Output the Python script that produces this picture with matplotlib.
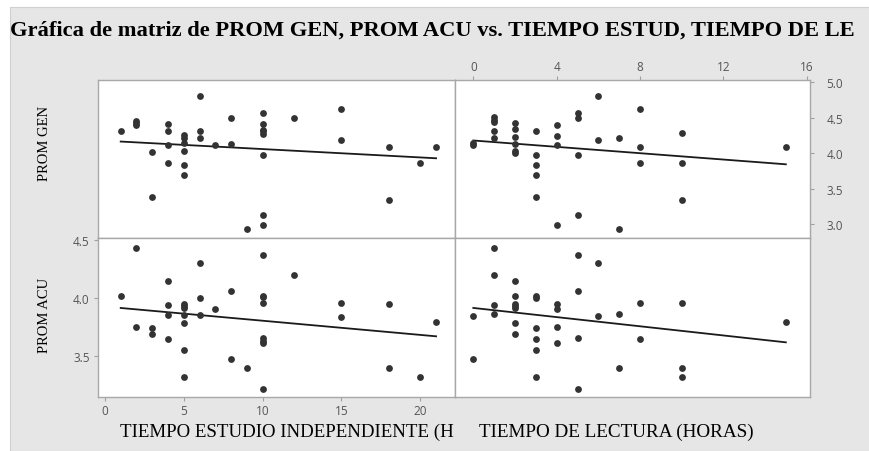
import numpy as np
import matplotlib
matplotlib.use("Agg")
import matplotlib.pyplot as plt
from matplotlib.patches import Rectangle

# PROM GEN vs TIEMPO ESTUDIO (top-left)
estud_gen_x = [1, 2, 2, 2, 3, 3, 4, 4, 4, 4, 5, 5, 5, 5, 5, 5, 6, 6, 6, 7, 8, 8, 9,
               10, 10, 10, 10, 10, 10, 10, 10, 12, 15, 15, 18, 18, 20, 21]
estud_gen_y = [4.31, 4.45, 4.43, 4.40, 4.02, 3.39, 4.41, 4.31, 4.12, 3.87,
               4.26, 4.22, 4.15, 4.03, 3.83, 3.70, 4.81, 4.31, 4.22, 4.12, 4.50, 4.13, 2.93,
               4.565, 4.41, 4.33, 4.31, 4.27, 3.97, 3.14, 2.99, 4.50, 4.62, 4.18,
               4.085, 3.34, 3.87, 4.085]

# PROM ACU vs TIEMPO ESTUDIO (bottom-left)
estud_acu_x = [1, 2, 2, 3, 3, 4, 4, 4, 4, 5, 5, 5, 5, 5, 5, 5, 6, 6, 6, 7, 8, 8, 9,
               10, 10, 10, 10, 10, 10, 10, 10, 12, 15, 15, 18, 18, 20, 21]
estud_acu_y = [4.02, 4.43, 3.745, 3.74, 3.69, 4.15, 3.94, 3.85, 3.64,
               3.95, 3.93, 3.91, 3.855, 3.78, 3.55, 3.31, 4.30, 4.0, 3.855, 3.90, 4.06, 3.47, 3.39,
               4.37, 4.02, 4.006, 3.96, 3.65, 3.63, 3.61, 3.21, 4.20, 3.96, 3.835,
               3.95, 3.39, 3.31, 3.79]

# PROM GEN vs TIEMPO DE LECTURA (top-right)
lect_gen_x = [0, 0, 1, 1, 1, 1, 1, 2, 2, 2, 2, 2, 2, 3, 3, 3, 3, 3, 4, 4, 4, 4,
              5, 5, 5, 5, 6, 6, 7, 7, 8, 8, 8, 10, 10, 10, 15]
lect_gen_y = [4.145, 4.12, 4.51, 4.475, 4.44, 4.315, 4.22, 4.42, 4.34, 4.235, 4.135, 4.03, 4.01,
              4.315, 3.97, 3.83, 3.70, 3.39, 4.40, 4.25, 4.12, 2.99,
              4.565, 4.50, 3.97, 3.14, 4.81, 4.18, 4.22, 2.93, 4.62, 4.085, 3.87,
              4.28, 3.87, 3.34, 4.085]

# PROM ACU vs TIEMPO DE LECTURA (bottom-right)
lect_acu_x = [0, 0, 1, 1, 1, 1, 2, 2, 2, 2, 2, 2, 2, 3, 3, 3, 3, 3, 3, 4, 4, 4, 4,
              5, 5, 5, 5, 6, 6, 7, 7, 8, 8, 10, 10, 10, 15]
lect_acu_y = [3.846, 3.47, 4.43, 4.20, 3.94, 3.86, 4.15, 4.015, 3.95, 3.93, 3.91, 3.785, 3.69,
              4.017, 4.0, 3.74, 3.64, 3.55, 3.31, 3.95, 3.90, 3.745, 3.61,
              4.37, 4.06, 3.65, 3.21, 4.30, 3.84, 3.86, 3.39, 3.955, 3.64,
              3.96, 3.39, 3.31, 3.79]

# fitted lines (slope, intercept)
fit_estud_gen = [-0.01175, 4.177]
fit_estud_acu = [-0.0123, 3.925]
fit_lect_gen = [-0.0223, 4.18]
fit_lect_acu = [-0.0199, 3.913]

title = "Gráfica de matriz de PROM GEN, PROM ACU vs. TIEMPO ESTUD, TIEMPO DE LE"

W, H = 869, 452
fig = plt.figure(figsize=(W / 100, H / 100), dpi=100)
fig.patch.set_facecolor("white")
fig.patches.append(Rectangle((10 / W, 0), 1, 1 - 8 / H, transform=fig.transFigure,
                             facecolor="#e6e6e6", edgecolor="#d0d0d0", lw=0.8, zorder=-10))

serif = "Liberation Serif"
tick_font = {"family": "Open Sans", "size": 8.5, "color": "#555555"}


def rect(x0, y0, x1, y1):
    return [x0 / W, 1 - y1 / H, (x1 - x0) / W, (y1 - y0) / H]


def panel(r, x, y, fit, xlim, ylim):
    ax = fig.add_axes(r)
    ax.set_facecolor("white")
    ax.scatter(x, y, s=24, color="#333333", linewidths=0, zorder=3)
    xs = np.array([min(x), max(x)])
    ax.plot(xs, np.polyval(fit, xs), color="#1a1a1a", lw=1.3, zorder=2)
    ax.set_xlim(xlim)
    ax.set_ylim(ylim)
    for s in ax.spines.values():
        s.set_color("#a8a8a8")
        s.set_linewidth(1.0)
    ax.tick_params(length=3, width=0.8, color="#a0a0a0", pad=3)
    ax.set_xticks([])
    ax.set_yticks([])
    return ax


xl_left = (-0.44, 22.2)
xl_right = (-0.88, 16.16)
yl_gen = (2.81, 5.03)
yl_acu = (3.14, 4.52)

ax_tl = panel(rect(98, 81, 455, 239), estud_gen_x, estud_gen_y, fit_estud_gen, xl_left, yl_gen)
ax_tr = panel(rect(455, 81, 810, 239), lect_gen_x, lect_gen_y, fit_lect_gen, xl_right, yl_gen)
ax_bl = panel(rect(98, 239, 455, 398), estud_acu_x, estud_acu_y, fit_estud_acu, xl_left, yl_acu)
ax_br = panel(rect(455, 239, 810, 398), lect_acu_x, lect_acu_y, fit_lect_acu, xl_right, yl_acu)

# top-right: x ticks on top, y ticks on right
ax_tr.xaxis.tick_top()
ax_tr.set_xticks([0, 4, 8, 12, 16])
ax_tr.yaxis.tick_right()
ax_tr.set_yticks([3.0, 3.5, 4.0, 4.5, 5.0])
ax_tr.set_yticklabels(["3.0", "3.5", "4.0", "4.5", "5.0"])
ax_tr.tick_params(axis="y", pad=9)
ax_tr.tick_params(axis="x", pad=2)

# bottom-left: x ticks on bottom, y ticks on left
ax_bl.set_xticks([0, 5, 10, 15, 20])
ax_bl.set_yticks([3.5, 4.0, 4.5])
ax_bl.set_yticklabels(["3.5", "4.0", "4.5"])
ax_bl.tick_params(axis="x", pad=2)

for ax in (ax_tr, ax_bl):
    for lab in ax.get_xticklabels() + ax.get_yticklabels():
        lab.set_fontfamily(tick_font["family"])
        lab.set_fontsize(tick_font["size"])
        lab.set_color(tick_font["color"])

fig.text(10 / W, 1 - 36 / H, title, family=serif, weight="bold", fontsize=16.2,
         ha="left", va="baseline")
fig.text(45 / W, 1 - 143 / H, "PROM GEN", family=serif, fontsize=10.5, rotation=90,
         ha="center", va="center")
fig.text(45 / W, 1 - 315 / H, "PROM ACU", family=serif, fontsize=10.5, rotation=90,
         ha="center", va="center")
fig.text(120 / W, 1 - 432 / H, "TIEMPO ESTUDIO INDEPENDIENTE (H", family=serif,
         fontsize=13.6, ha="left", va="center")
fig.text(616 / W, 1 - 432 / H, "TIEMPO DE LECTURA (HORAS)", family=serif, fontsize=13.8,
         ha="center", va="center")

fig.savefig("out.png", dpi=100)
